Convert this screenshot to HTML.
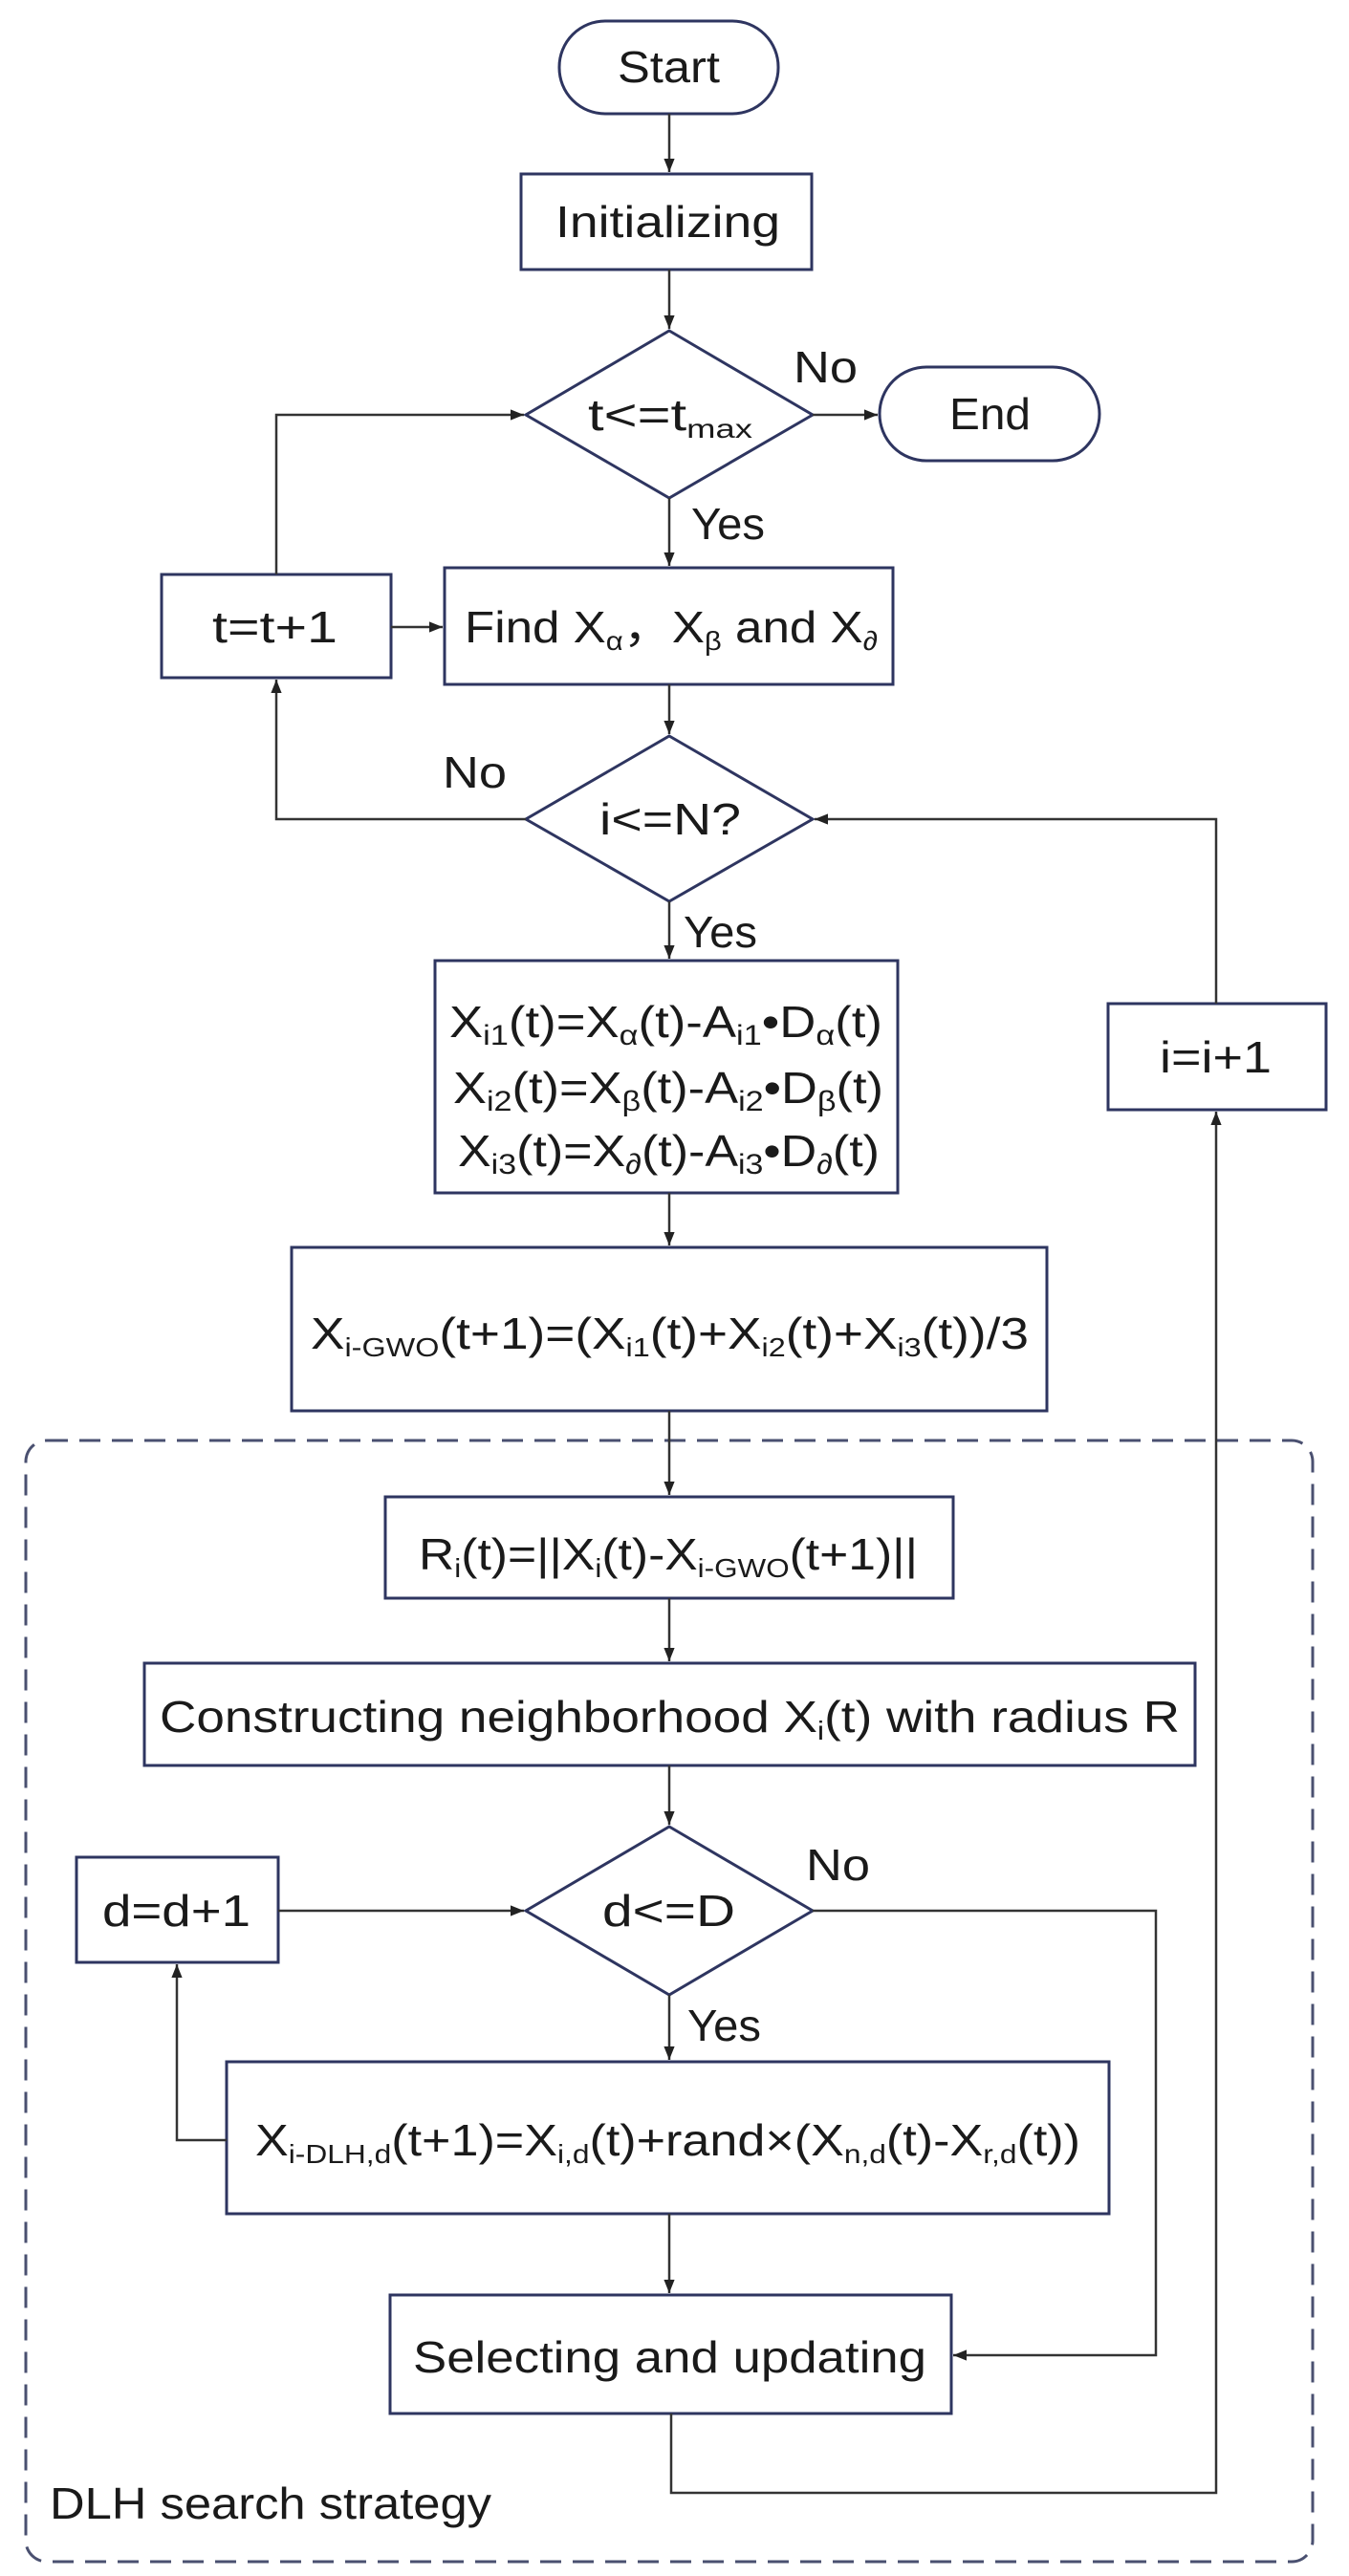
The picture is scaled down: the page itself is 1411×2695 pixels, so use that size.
<!DOCTYPE html>
<html><head><meta charset="utf-8"><style>
html,body{margin:0;padding:0;background:#fff}
svg{display:block}
text{font-family:"Liberation Sans",sans-serif;fill:#1a1a1a}
</style></head><body>
<svg width="1411" height="2695" viewBox="0 0 1411 2695" xmlns="http://www.w3.org/2000/svg">
<defs>
<marker id="b" viewBox="0 0 10 10" refX="10" refY="5" markerWidth="14" markerHeight="14" markerUnits="userSpaceOnUse" orient="auto"><path d="M0,1 L10,5 L0,9 z" fill="#222"/></marker>
</defs>
<g fill="#fff" stroke="#2e3560" stroke-width="3">
<rect x="585" y="22" width="229" height="97" rx="48"/>
<rect x="545" y="182" width="304" height="100"/>
<polygon points="700,346 850,434 700,521 550,434"/>
<rect x="920" y="384" width="230" height="98" rx="49"/>
<rect x="465" y="594" width="469" height="122"/>
<rect x="169" y="601" width="240" height="108"/>
<polygon points="700,770 850,857 700,943 550,857"/>
<rect x="455" y="1005" width="484" height="243"/>
<rect x="1159" y="1050" width="228" height="111"/>
<rect x="305" y="1305" width="790" height="171"/>
<rect x="403" y="1566" width="594" height="106"/>
<rect x="151" y="1740" width="1099" height="107"/>
<polygon points="700,1911 850,1999 700,2087 550,1999"/>
<rect x="80" y="1943" width="211" height="110"/>
<rect x="237" y="2157" width="923" height="159"/>
<rect x="408" y="2401" width="587" height="124"/>
</g>
<rect x="27" y="1507" width="1346" height="1173" rx="22" fill="none" stroke="#4a5070" stroke-width="3" stroke-dasharray="22,12"/>
<g fill="none" stroke="#333" stroke-width="2.5">
<path d="M700,119 V180" marker-end="url(#b)"/>
<path d="M700,282 V344" marker-end="url(#b)"/>
<path d="M850,434 H918" marker-end="url(#b)"/>
<path d="M700,521 V592" marker-end="url(#b)"/>
<path d="M289,601 V434 H548" marker-end="url(#b)"/>
<path d="M409,656 H463" marker-end="url(#b)"/>
<path d="M700,716 V768" marker-end="url(#b)"/>
<path d="M550,857 H289 V711" marker-end="url(#b)"/>
<path d="M1272,1050 V857 H852" marker-end="url(#b)"/>
<path d="M700,943 V1003" marker-end="url(#b)"/>
<path d="M700,1248 V1303" marker-end="url(#b)"/>
<path d="M700,1476 V1564" marker-end="url(#b)"/>
<path d="M700,1672 V1738" marker-end="url(#b)"/>
<path d="M700,1847 V1909" marker-end="url(#b)"/>
<path d="M291,1999 H548" marker-end="url(#b)"/>
<path d="M850,1999 H1209 V2464 H997" marker-end="url(#b)"/>
<path d="M700,2087 V2155" marker-end="url(#b)"/>
<path d="M237,2239 H185 V2055" marker-end="url(#b)"/>
<path d="M700,2316 V2399" marker-end="url(#b)"/>
<path d="M702,2525 V2608 H1272 V1163" marker-end="url(#b)"/>
</g>
<g font-size="46">
<text x="646" y="86" textLength="107" lengthAdjust="spacingAndGlyphs">Start</text>
<text x="581" y="248" textLength="235" lengthAdjust="spacingAndGlyphs">Initializing</text>
<text x="615" y="450" textLength="172" lengthAdjust="spacingAndGlyphs">t&lt;=t<tspan font-size="28" dy="8">max</tspan></text>
<text x="993" y="449" textLength="85" lengthAdjust="spacingAndGlyphs">End</text>
<text x="830" y="400" textLength="67" lengthAdjust="spacingAndGlyphs">No</text>
<text x="723" y="564" textLength="77" lengthAdjust="spacingAndGlyphs">Yes</text>
<text x="486" y="672" textLength="432" lengthAdjust="spacingAndGlyphs">Find X<tspan font-size="28" dy="8">α</tspan><tspan dy="-8">，X</tspan><tspan font-size="28" dy="8">β</tspan><tspan dy="-8"> and X</tspan><tspan font-size="28" dy="8">∂</tspan></text>
<text x="222" y="672" textLength="131" lengthAdjust="spacingAndGlyphs">t=t+1</text>
<text x="627" y="873" textLength="148" lengthAdjust="spacingAndGlyphs">i&lt;=N?</text>
<text x="463" y="824" textLength="67" lengthAdjust="spacingAndGlyphs">No</text>
<text x="715" y="991" textLength="77" lengthAdjust="spacingAndGlyphs">Yes</text>
<text x="470" y="1085" textLength="453" lengthAdjust="spacingAndGlyphs">X<tspan font-size="30" dy="8">i1</tspan><tspan dy="-8">(t)=X</tspan><tspan font-size="30" dy="8">α</tspan><tspan dy="-8">(t)-A</tspan><tspan font-size="30" dy="8">i1</tspan><tspan dy="-8">•D</tspan><tspan font-size="30" dy="8">α</tspan><tspan dy="-8">(t)</tspan></text>
<text x="474" y="1154" textLength="450" lengthAdjust="spacingAndGlyphs">X<tspan font-size="30" dy="8">i2</tspan><tspan dy="-8">(t)=X</tspan><tspan font-size="30" dy="8">β</tspan><tspan dy="-8">(t)-A</tspan><tspan font-size="30" dy="8">i2</tspan><tspan dy="-8">•D</tspan><tspan font-size="30" dy="8">β</tspan><tspan dy="-8">(t)</tspan></text>
<text x="479" y="1220" textLength="441" lengthAdjust="spacingAndGlyphs">X<tspan font-size="30" dy="8">i3</tspan><tspan dy="-8">(t)=X</tspan><tspan font-size="30" dy="8">∂</tspan><tspan dy="-8">(t)-A</tspan><tspan font-size="30" dy="8">i3</tspan><tspan dy="-8">•D</tspan><tspan font-size="30" dy="8">∂</tspan><tspan dy="-8">(t)</tspan></text>
<text x="1213" y="1122" textLength="117" lengthAdjust="spacingAndGlyphs">i=i+1</text>
<text x="325" y="1411" textLength="751" lengthAdjust="spacingAndGlyphs">X<tspan font-size="28" dy="8">i-GWO</tspan><tspan dy="-8">(t+1)=(X</tspan><tspan font-size="28" dy="8">i1</tspan><tspan dy="-8">(t)+X</tspan><tspan font-size="28" dy="8">i2</tspan><tspan dy="-8">(t)+X</tspan><tspan font-size="28" dy="8">i3</tspan><tspan dy="-8">(t))/3</tspan></text>
<text x="438" y="1642" textLength="522" lengthAdjust="spacingAndGlyphs">R<tspan font-size="28" dy="8">i</tspan><tspan dy="-8">(t)=||X</tspan><tspan font-size="28" dy="8">i</tspan><tspan dy="-8">(t)-X</tspan><tspan font-size="28" dy="8">i-GWO</tspan><tspan dy="-8">(t+1)||</tspan></text>
<text x="167" y="1812" textLength="1067" lengthAdjust="spacingAndGlyphs">Constructing neighborhood X<tspan font-size="28" dy="8">i</tspan><tspan dy="-8">(t) with radius R</tspan></text>
<text x="107" y="2015" textLength="155" lengthAdjust="spacingAndGlyphs">d=d+1</text>
<text x="630" y="2015" textLength="139" lengthAdjust="spacingAndGlyphs">d&lt;=D</text>
<text x="843" y="1967" textLength="67" lengthAdjust="spacingAndGlyphs">No</text>
<text x="719" y="2135" textLength="77" lengthAdjust="spacingAndGlyphs">Yes</text>
<text x="267" y="2255" textLength="863" lengthAdjust="spacingAndGlyphs">X<tspan font-size="28" dy="8">i-DLH,d</tspan><tspan dy="-8">(t+1)=X</tspan><tspan font-size="28" dy="8">i,d</tspan><tspan dy="-8">(t)+rand×(X</tspan><tspan font-size="28" dy="8">n,d</tspan><tspan dy="-8">(t)-X</tspan><tspan font-size="28" dy="8">r,d</tspan><tspan dy="-8">(t))</tspan></text>
<text x="432" y="2482" textLength="537" lengthAdjust="spacingAndGlyphs">Selecting and updating</text>
<text x="52" y="2635" textLength="462" lengthAdjust="spacingAndGlyphs">DLH search strategy</text>
</g>
</svg>
</body></html>
